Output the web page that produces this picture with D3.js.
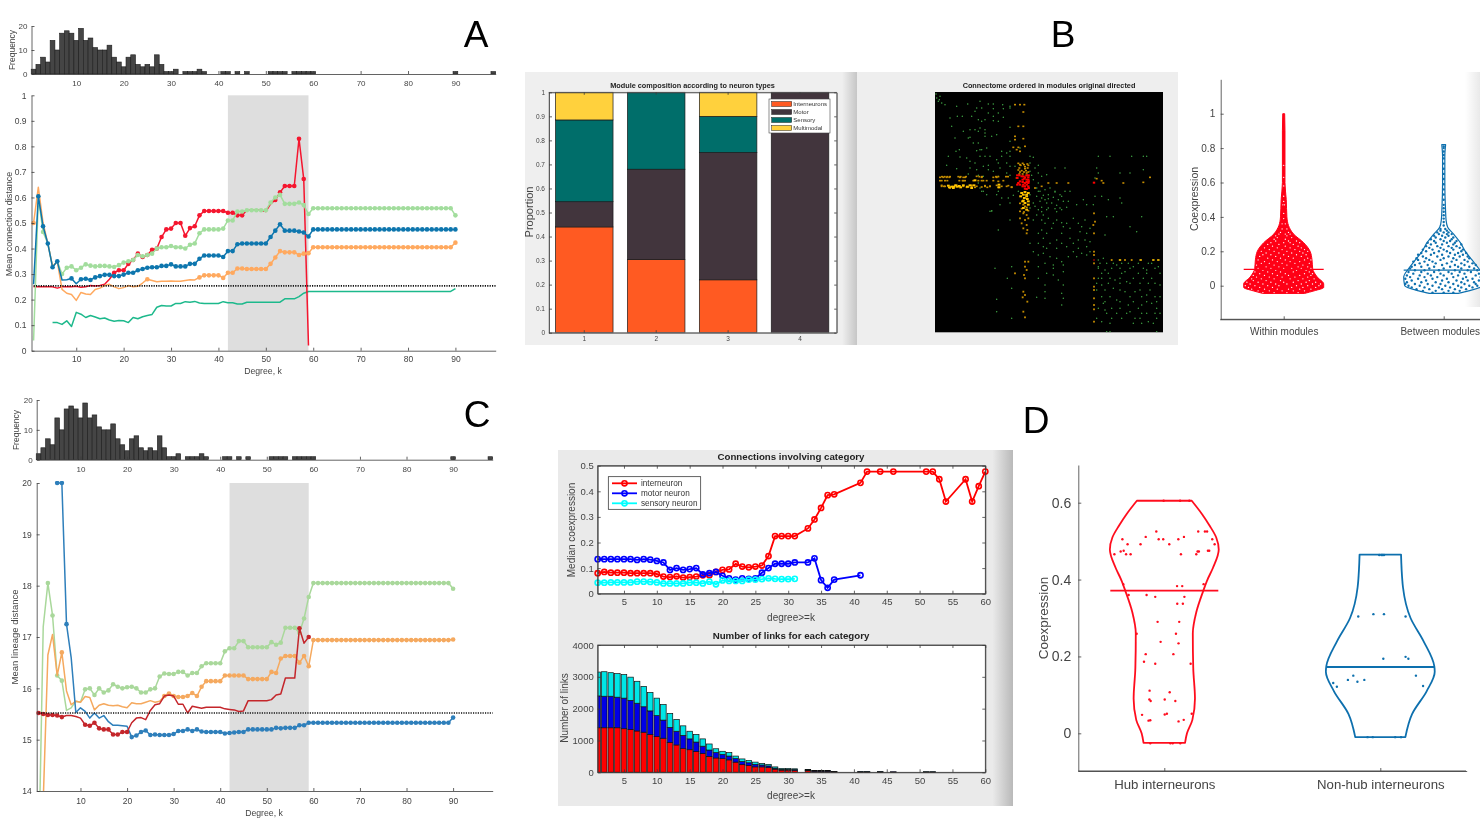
<!DOCTYPE html>
<html><head><meta charset="utf-8">
<script src="https://cdn.jsdelivr.net/npm/d3@7"></script>
<style>html,body{margin:0;padding:0;background:#fff}svg{display:block}text{font-family:"Liberation Sans",Arial,sans-serif}</style>
</head><body><svg id="fig" width="1480" height="821"></svg>
<script>
// ---------- Degree histogram (panels A, C) ----------
const histK=[1,2,3,4,5,6,7,8,9,10,11,12,13,14,15,16,17,18,19,20,21,22,23,24,25,26,27,28,29,30,31,33,34,35,36,37,41,42,44,46,51,52,53,54,56,57,58,59,60,90,98];
const histCount=[2,4,7,5,14,10,17,18,17,14,19,14,15,11,10,10,12,7,5,3,7,8,4,3,4,3,8,4,1,1,2,1,1,1,2,1,1,1,1,1,1,1,1,1,1,1,1,1,1,1,1];
// ---------- Panel A: mean connection distance, first value is at k=start ----------
const aRed=[.25,.25,.25,.25,.25,.245,.25,.25,.25,.252,.248,.25,.255,.253,.255,.26,.28,.305,.315,.315,.34,.355,.38,.367,.375,.395,.4,.445,.475,.478,.5,.5,.45,.48,.487,.53,.547,.547,.547,.547,.547,.54,.54,.53,.53,.55,.55,.55,.55,.545,.575,.59,.62,.645,.645,.645,.83,.672,.02];
const aGreen=[.04,.6,.465,.42,.33,.35,.3,.325,.33,.315,.325,.338,.333,.33,.332,.332,.33,.328,.335,.345,.35,.355,.375,.37,.375,.38,.4,.405,.405,.41,.405,.405,.4,.415,.42,.46,.475,.475,.475,.475,.478,.51,.51,.545,.545,.55,.55,.55,.55,.55,.58,.6,.61,.575,.575,.575,.58,.57,.535,.558,
 .558,.558,.558,.558,.558,.558,.558,.558,.558,.558,.558,.558,.558,.558,.558,.558,.558,.558,.558,.558,.558,.558,.558,.558,.558,.558,.558,.558,.558,.53];
const aBlue=[.26,.605,.487,.42,.327,.35,.277,.278,.283,.262,.28,.282,.277,.287,.292,.297,.297,.292,.292,.298,.305,.305,.315,.32,.325,.327,.327,.332,.332,.338,.33,.33,.33,.34,.34,.36,.373,.373,.373,.373,.367,.39,.39,.417,.42,.42,.42,.42,.42,.42,.445,.47,.495,.47,.47,.47,.467,.463,.447,.475,
 .475,.475,.475,.475,.475,.475,.475,.475,.475,.475,.475,.475,.475,.475,.475,.475,.475,.475,.475,.475,.475,.475,.475,.475,.475,.475,.475,.475,.475,.475];
const aOrange=[.5,.64,.5,.42,.33,.35,.24,.225,.22,.197,.228,.222,.22,.24,.245,.255,.26,.25,.243,.247,.255,.25,.252,.265,.28,.275,.27,.272,.272,.273,.272,.272,.275,.278,.277,.287,.295,.295,.295,.295,.285,.305,.305,.322,.322,.32,.32,.32,.32,.32,.34,.365,.39,.385,.385,.385,.375,.38,.382,.405,
 .405,.405,.405,.405,.405,.405,.405,.405,.405,.405,.405,.405,.405,.405,.405,.405,.405,.405,.405,.405,.405,.405,.405,.405,.405,.405,.405,.405,.405,.423];
const aTeal=[.11,.11,.103,.117,.095,.15,.143,.13,.138,.132,.125,.128,.12,.115,.118,.117,.11,.13,.125,.133,.138,.142,.17,.177,.175,.175,.185,.185,.192,.19,.193,.187,.185,.185,.185,.185,.192,.188,.188,.183,.183,.19,.19,.19,.19,.19,.19,.19,.19,.203,.203,.203,.212,.225,.232,.232,
 .232,.232,.232,.232,.232,.232,.232,.232,.232,.232,.232,.232,.232,.232,.232,.232,.232,.232,.232,.232,.232,.232,.232,.232,.232,.232,.232,.232,.232,.243];
const aBaseline=.254;
// ---------- Panel C: mean lineage distance ----------
const cRed=[15.52,15.5,15.48,15.48,15.47,15.44,15.47,15.47,15.45,15.42,15.29,15.27,15.33,15.22,15.2,15.2,15.1,15.1,15.15,15.15,15.33,15.42,15.43,15.39,15.57,15.68,15.7,15.85,15.87,15.85,15.69,15.69,15.52,15.65,15.63,15.61,15.63,15.63,15.63,15.63,15.6,15.59,15.58,15.55,15.56,15.76,15.76,15.76,15.76,15.76,15.78,15.87,15.89,16.2,16.2,16.2,17.17,16.88,17];
const cGreen=[12.5,17.2,18.05,17.42,16.25,16.15,15.57,15.62,15.75,15.73,15.98,16,15.87,16,15.92,15.96,16.08,16.03,16,16.02,16.03,16,15.92,15.92,15.98,16,16.23,16.29,16.28,16.28,16.32,16.32,16.25,16.3,16.3,16.43,16.49,16.49,16.49,16.49,16.72,16.78,16.78,16.92,16.92,16.8,16.8,16.8,16.8,16.8,16.9,16.85,16.89,17.18,17.18,17.18,17.08,17.36,17.78,18.05,
 18.05,18.05,18.05,18.05,18.05,18.05,18.05,18.05,18.05,18.05,18.05,18.05,18.05,18.05,18.05,18.05,18.05,18.05,18.05,18.05,18.05,18.05,18.05,18.05,18.05,18.05,18.05,18.05,18.05,17.94];
const cOrange=[13.5,13.8,16.65,17.05,16.25,16.7,15.95,15.68,15.75,15.73,15.84,15.82,15.58,15.67,15.7,15.67,15.66,15.67,15.64,15.62,15.72,15.7,15.7,15.73,15.76,15.73,15.75,15.85,15.9,15.85,15.83,15.83,15.85,15.91,15.85,16.03,16.14,16.14,16.14,16.14,16.25,16.25,16.25,16.25,16.25,16.18,16.18,16.18,16.18,16.18,16.32,16.3,16.58,16.63,16.63,16.63,16.5,16.63,16.43,16.94,
 16.94,16.94,16.94,16.94,16.94,16.94,16.94,16.94,16.94,16.94,16.94,16.94,16.94,16.94,16.94,16.94,16.94,16.94,16.94,16.94,16.94,16.94,16.94,16.94,16.94,16.94,16.94,16.94,16.94,16.95];
const cBlue=[20,20,17.25,16.6,15.53,15.62,15.55,15.42,15.52,15.42,15.47,15.35,15.28,15.28,15.27,15.26,15.05,15.08,15.15,15.18,15.09,15.1,15.09,15.09,15.09,15.11,15.17,15.17,15.2,15.17,15.2,15.16,15.15,15.15,15.15,15.15,15.12,15.13,15.14,15.15,15.15,15.2,15.2,15.2,15.2,15.2,15.2,15.23,15.22,15.23,15.23,15.23,15.28,15.28,15.33,15.33,
 15.33,15.33,15.33,15.33,15.33,15.33,15.33,15.33,15.33,15.33,15.33,15.33,15.33,15.33,15.33,15.33,15.33,15.33,15.33,15.33,15.33,15.33,15.33,15.33,15.33,15.33,15.33,15.33,15.33,15.43];
const cBaseline=15.52;
// ---------- Panel B: module composition ----------
const modules=["1","2","3","4"];
const typeNames=["Interneurons","Motor","Sensory","Multimodal"];
const typeColors=["#ff5a22","#42363e","#006e6b","#ffd13c"];
const propInter=[.44,.305,.22,0];
const propMotor=[.105,.375,.53,1];
const propSensory=[.34,.32,.15,0];
const propMulti=[.115,0,.10,0];
const heatGreenTop=[[20,30],[25,40],[30,25],[35,45],[45,50],[18,18],[28,35],[150,40],[80,55],[113,48],[175,48],[190,48],[218,50],[240,55],[155,60],[140,60],[190,62],[220,62],[240,60],[60,90],[82,85],[97,85],[145,95],[155,100],[165,95],[190,85],[190,98],[220,88],[165,125],[165,135],[240,118],[120,125],[135,125],[145,130],[185,145],[165,145],[120,148],[240,160],[145,165],[150,185],[88,185],[78,190],[140,188],[165,205],[155,185],[215,190],[240,190],[230,195],[180,205],[90,207],[55,205],[110,210],[240,205],[310,208],[300,205],[150,205],[270,180],[50,232],[80,242],[120,240],[175,232],[205,225],[230,225],[240,235],[255,235],[300,225],[325,232],[375,240],[405,240],[115,258],[175,245],[145,262],[160,265],[205,265],[240,262],[305,262],[325,255],[350,260],[500,240],[505,255],[540,205],[605,205],[640,205],[650,205],[505,205],[570,255],[600,255],[640,245],[495,270],[155,310],[205,310],[235,330],[265,310],[300,320],[310,345],[325,310],[335,330],[355,320],[350,345],[375,310],[385,335],[395,325],[420,310],[415,340],[440,350],[460,335],[470,350],[495,325],[490,350],[515,325],[535,335],[570,330],[575,345],[300,360],[325,365],[355,360],[390,360],[210,350],[240,345],[185,368],[285,345],
[320,300],[330,310],[345,305],[360,300],[375,312],[320,325],[340,322],[355,332],[370,328],[390,320],[405,310],[330,340],[345,335],[365,345],[380,352],[400,340],[315,355],[335,358],[350,365],[375,362],[395,365],[410,358],[200,320],[215,330],[180,370],[250,322],[160,310],[170,320],[150,300],[145,285],[310,275],[325,285],[335,265],[315,240],[300,250],[230,255],[210,240],[190,250],[160,235],[140,245],[135,225],[120,220],[200,215],[215,205],[170,180],[130,165],[115,150],[200,140],[150,120],[100,130],[75,150],[65,115],[125,85],[135,70],[175,75],[205,100],[205,75]];
const heatAmberTop=[[255,50],[270,50],[283,50],[280,72],[265,115],[280,115],[255,145],[255,155],[280,152],[250,178],[265,178],[285,175],[270,190],[260,185],[270,230],[282,230],[295,232],[268,240],[285,242],[293,240],[270,252],[282,252],[290,255],[30,268],[40,268],[50,268],[58,268],[90,268],[100,268],[105,268],[140,265],[155,268],[190,268],[200,268],[260,270],[30,278],[88,278],[100,278],[130,278],[160,278],[190,278],[205,280],[500,272],[515,278],[660,268],[640,283],[580,285],[520,285],[380,285],[355,285],[415,285],[35,295],[42,295],[100,295],[115,297],[125,295],[140,295],[155,297],[165,295],[180,295],[205,298],[230,295],[245,297],[315,300],[335,295],
[36,266],[44,266],[52,266],[60,266],[85,266],[92,266],[108,266],[148,266],[156,266],[198,266],[205,266],[228,266],[234,266],[35,278],[45,278],[52,278],[98,278],[105,278],[145,278],[155,278],[170,278],[220,278],[35,292],[45,295],[60,300],[75,292],[110,298],[125,292],[135,298],[165,293],[172,298],[180,295],[200,292],[215,295],[235,293],[245,298],[265,226],[272,232],[278,226],[285,236],[292,228],[265,246],[275,248],[288,248],[295,252],[268,258],[278,258],[290,262],[270,346],[280,350],[285,355],[275,362],[290,358],[270,370],[282,372],[295,368]];
const heatYellowTop=[[55,293],[65,296],[72,296],[82,296],[88,294],[120,292],[125,300],[207,290],[207,298],[135,277],[280,320],[290,320],[283,330],[292,333],[278,340],[285,345],[295,350],[280,360],[290,365],[275,315],[285,312],[295,315],[272,325],[290,325],[280,338],[295,340],[58,298],[70,300],[78,292],[92,298],[100,292],[112,296],[132,292]];
const heatRedTop=[[285,268],[295,268],[278,275],[290,275],[262,270],[285,285],[295,285],[265,285],[285,295],[295,295],[290,303],[492,284],[262,262],[268,262],[275,265],[280,265],[290,262],[296,262],[283,272],[295,275],[270,280],[278,282],[290,282],[296,280],[262,290],[270,290],[280,290],[290,290],[296,300],[285,302],[278,295]];
const heatGreenLow=[[185,3],[205,60],[240,30],[300,100],[320,15],[335,5],[340,15],[380,5],[380,30],[395,38],[345,40],[325,70],[335,60],[365,55],[380,90],[400,50],[420,55],[450,65],[470,70],[465,90],[470,110],[455,130],[470,135],[325,100],[340,110],[380,115],[410,110],[430,100],[340,130],[325,135],[380,145],[395,155],[400,165],[345,160],[325,170],[370,165],[400,185],[325,205],[370,195],[345,225],[400,225],[395,250],[345,265],[320,262],[395,285],[200,305],[245,325],[195,175],[245,170],[232,205],[245,235],[200,268],[530,20],[550,20],[635,20],[525,75],[600,50],[620,65],[505,150],[520,145],
[510,160],[530,160],[550,160],[575,160],[595,160],[625,160],[655,160],[665,160],[505,175],[545,175],[570,175],[600,175],[640,175],[675,175],[515,190],[535,190],[575,190],[625,190],[650,190],[690,190],[515,205],[540,205],[570,205],[610,205],[640,205],[665,205],[500,220],[535,220],[570,220],[600,220],[630,220],[675,220],[500,240],[525,240],[570,240],[630,240],[660,240],[515,260],[540,260],[600,260],[635,260],[675,260],[690,260],[525,275],[570,275],[610,275],[650,275],[680,275],[505,295],[545,295],[570,295],[625,295],[680,295],[530,310],[590,310],[635,310],[675,310],[500,325],[545,325],[630,325],[680,325],[540,340],[610,340],[635,340],[670,340],[530,365],[540,365],[680,365],
[310,30],[335,30],[355,25],[370,40],[350,70],[395,70],[410,40],[430,25],[445,40],[465,30],[455,50],[480,55],[340,85],[360,100],[420,85],[445,90],[480,95],[350,115],[395,100],[430,125],[445,115],[480,125],[310,125],[360,140],[415,140],[440,140],[370,175],[350,190],[385,210],[345,245],[400,265],[505,170],[525,180],[560,165],[585,185],[610,170],[650,180],[685,170],[505,205],[555,210],[590,215],[655,220],[690,225],[515,225],[550,235],[585,245],[615,245],[650,255],[520,280],[560,270],[595,285],[635,285],[665,280],[525,300],[560,310],[600,305],[650,310],[690,310],[515,335],[575,325],[615,325],[655,335]];
const heatAmberLow=[[280,10],[290,15],[270,25],[285,30],[295,25],[275,40],[290,45],[280,55],[292,60],[290,70],[492,10],[495,35],[490,45],[492,70],[492,125],[492,135],[492,160],[285,155],[295,155],[285,170],[290,180],[282,195],[285,205],[255,190],[280,245],[285,255],[278,262],[292,275],[280,305],[285,322],[492,205],[492,230],[492,240],[492,265],[492,285],[492,298],[492,335],[545,150],[585,150],[605,150]];
const heatYellowLow=[[570,150],[632,150],[670,150],[685,150]];
const heatRedLow=[[492,150]];
// ---------- Panel B: coexpression violins ----------
const violinNamesB=["Within modules","Between modules"];
const withinShape=[[1,.006],[.9,.008],[.7,.008],[.6,.008],[.5,.016],[.4,.02],[.35,.03],[.3,.062],[.25,.125],[.2,.165],[.15,.177],[.1,.181],[.05,.21],[.01,.25],[-.01,.25],[-.03,.19],[-.045,.13]];
const betweenShape=[[.82,.012],[.75,.007],[.6,.007],[.45,.011],[.38,.015],[.34,.025],[.3,.062],[.25,.104],[.2,.135],[.15,.177],[.1,.219],[.05,.25],[0,.244],[-.03,.156],[-.045,.09]];
const withinMedian=.095, betweenMedian=.09;
// rows: [coexpression %, [offsets % of category spacing]]
const withinGapRows=[[-4,[-13,-6,2,9]],[-3,[-16,-9,-1,6,13]],[-2,[-20,-12,-4,3,10,17]],[-1,[-22,-15,-7,5,12,20]],[0,[-24,-18,-10,-3,8,15,22]],[1,[-21,-13,-5,2,11,18,23]],[2,[-23,-16,-8,0,6,14,20]],[3,[-19,-11,-2,9,16]],[4,[-20,-14,-6,4,12,19]],[5,[-17,-9,-1,7,15]],[6,[-19,-12,-4,3,10,17]],[7,[-15,-7,1,13,18]],[8,[-18,-10,-2,6,16]],[9,[-13,-5,8,14]],[10,[-16,-8,0,5,11,17]],[11,[-11,-3,9,15]],[12,[-17,-6,2,12]],[13,[-14,-9,-1,7,16]],[14,[-12,-4,4,10]],[15,[-16,-7,1,13,17]],[16,[-10,-2,6,15]],[17,[-15,-5,3,11]],[18,[-13,-8,0,8,14]],[19,[-11,-3,5,12]],[20,[-14,-6,2,10,15]],[21,[-9,-1,7,13]],[22,[-12,-4,4,11]],[23,[-7,1,9]],[24,[-10,-3,6]],[25,[-8,0,4,10]],[26,[-5,3,8]],[27,[-6,1]],[28,[-4,5]],[29,[-5,2]],[30,[-3,1,4]],[31,[-2,3]],[33,[-1,2]],[36,[-1,1]],[39,[0]],[42,[0]],[47,[-.5,.5]],[49,[0]],[52,[0]],[58,[0]],[63,[0]],[70,[0]]];
const betweenDotRows=[[-4,[-7,0,6]],[-3,[-13,-5,3,10]],[-2,[-17,-9,-1,7,14]],[-1,[-20,-12,-3,4,11,18]],[0,[-22,-15,-7,1,9,16,21]],[1,[-24,-18,-10,-2,6,13,20]],[2,[-23,-14,-5,3,11,19,24]],[3,[-20,-11,-1,8,15,22]],[4,[-24,-16,-7,2,12,18]],[5,[-21,-12,-4,6,14,23]],[6,[-23,-15,-8,0,9,20]],[7,[-19,-10,-2,5,13,22]],[8,[-22,-14,-6,3,10,17]],[9,[-18,-12,-3,7,15,21]],[10,[-21,-9,0,11,19]],[11,[-20,-14,-6,4,9,16]],[12,[-18,-10,-1,7,13,20]],[13,[-15,-5,2,11,18]],[14,[-19,-12,-7,5,15]],[15,[-16,-9,-2,8,13]],[16,[-17,-11,0,6,16]],[17,[-13,-4,3,10,15]],[18,[-16,-8,-1,7,12]],[19,[-14,-6,4,9,14]],[20,[-11,-3,2,11]],[21,[-13,-7,0,6,12]],[22,[-9,-2,5,10]],[23,[-11,-4,3,8]],[24,[-8,-1,6,11]],[25,[-10,-5,2,7]],[26,[-6,0,4,8]],[27,[-8,-2,5]],[28,[-5,1,6]],[29,[-6,-1,3]],[30,[-3,2,5]],[31,[-4,0,3]],[32,[-2,2]],[33,[-2,1]],[35,[0]],[37,[0]],[39,[0]],[41,[0]],[43,[0]],[45,[0]],[47,[0]],[50,[0]],[53,[0]],[56,[0]],[59,[0]],[62,[0]],[65,[0]],[68,[0]],[71,[0]],[74,[0]],[76,[0]],[78,[0]],[80,[0]],[81,[0]]];
// ---------- Connections involving category ----------
const interK=[1,2,3,4,5,6,7,8,9,10,11,12,13,14,15,16,17,18,19,20,21,22,23,24,25,26,27,28,29,30,31,33,34,35,36,37,41,42,44,46,51,52,53,54,57,58,59,60];
const interMed=[.08,.085,.082,.082,.082,.08,.08,.08,.08,.077,.067,.065,.068,.063,.065,.067,.072,.072,.085,.093,.095,.117,.106,.103,.106,.11,.147,.225,.225,.225,.225,.255,.29,.335,.385,.388,.433,.477,.477,.477,.477,.477,.447,.36,.447,.36,.42,.477];
const motorK=[1,2,3,4,5,6,7,8,9,10,11,12,13,14,15,16,17,18,19,20,21,22,23,24,25,26,27,28,29,30,31,33,34,35,36,37,41];
const motorMed=[.135,.135,.135,.135,.135,.135,.132,.135,.133,.128,.122,.093,.1,.093,.096,.1,.075,.08,.085,.07,.06,.055,.06,.058,.06,.082,.1,.117,.117,.117,.122,.122,.138,.053,.023,.055,.072];
const sensoryK=[1,2,3,4,5,6,7,8,9,10,11,12,13,14,15,16,17,18,19,20,21,22,23,24,25,26,27,28,29,30,31];
const sensoryMed=[.043,.043,.044,.044,.044,.044,.047,.047,.046,.044,.04,.04,.04,.04,.043,.043,.04,.047,.037,.052,.05,.05,.05,.055,.055,.057,.06,.058,.057,.057,.058];
const linkK=[1,2,3,4,5,6,7,8,9,10,11,12,13,14,15,16,17,18,19,20,21,22,23,24,25,26,27,28,29,30,31,33,34,35,36,37,41,42,44,46,51,52];
const linkInter=[1400,1400,1400,1400,1370,1340,1300,1260,1190,1120,1070,940,860,750,710,650,590,500,450,430,390,320,240,210,170,170,150,100,70,70,60,50,30,30,30,20,10,10,10,10,8,8];
const linkMotor=[1000,990,990,960,960,920,870,800,740,660,570,470,430,410,340,300,230,200,170,130,120,110,100,90,80,60,50,30,20,20,30,20,20,15,15,10,5,5,5,5,4,4];
const linkSensory=[750,770,740,740,740,730,690,640,580,550,490,440,370,300,240,240,230,190,120,100,110,80,80,70,70,50,50,40,30,30,20,20,10,15,15,0,5,5,5,0,3,3];
// ---------- Panel D ----------
const violinNamesD=["Hub interneurons","Non-hub interneurons"];
const hubShape=[[.605,.127],[.57,.175],[.54,.21],[.51,.24],[.478,.252],[.43,.225],[.4,.2],[.37,.18],[.315,.148],[.26,.132],[.17,.134],[.09,.142],[.035,.13],[0,.105],[-.025,.096]];
const nonHubShape=[[.465,.096],[.38,.105],[.3,.14],[.24,.2],[.175,.25],[.16,.252],[.11,.215],[.05,.147],[-.01,.116]];
const hubMedian=.371, nonHubMedian=.1725;
const hubPoints=[[-.003,.605],[.073,.605],[.116,.605],[-.037,.525],[.157,.525],[.188,.525],[.198,.525],[-.086,.511],[.091,.511],[-.194,.505],[-.026,.505],[-.005,.505],[.065,.505],[.222,.505],[-.17,.492],[-.11,.492],[.023,.492],[.233,.492],[-.202,.473],[-.188,.475],[-.231,.466],[-.177,.466],[-.156,.466],[.077,.466],[.148,.466],[.154,.473],[.16,.473],[.202,.475],[.208,.475],[-.19,.388],[.059,.383],[.083,.383],[.182,.388],[-.165,.36],[-.082,.36],[-.042,.355],[.093,.355],[.06,.337],[.086,.337],[-.031,.29],[.069,.29],[-.128,.259],[.054,.259],[-.017,.238],[.066,.234],[-.086,.206],[.042,.206],[-.094,.186],[-.042,.181],[.122,.181],[-.068,.111],[.025,.107],[-.069,.088],[-.063,.084],[.002,.088],[.051,.084],[-.103,.048],[.002,.049],[.012,.051],[.127,.051],[-.073,.033],[-.065,.034],[.066,.031],[.09,.035],[-.065,-.026],[.028,-.026],[.039,-.026],[.074,-.026]];
const nonHubPoints=[[-.005,.464],[.005,.464],[.011,.464],[.017,.464],[-.102,.304],[-.032,.31],[.017,.31],[.117,.304],[.014,.194],[.117,.199],[.13,.194],[.165,.15],[.198,.123],[-.125,.15],[-.15,.139],[-.106,.134],[-.074,.139],[-.218,.131],[-.201,.121],[-.059,-.01],[-.035,-.01],[.069,-.01],[.096,-.01]];
// ---------- Corner letters ----------
const panelLetters=[["A",476,47],["B",1063,47],["C",477,427],["D",1036,433]];

// ======================= drawing =======================
const svg=d3.select("#fig");
const defs=svg.append("defs");
defs.append("filter").attr("id","soft").attr("filterUnits","userSpaceOnUse").attr("x",0).attr("y",0).attr("width",1480).attr("height",821)
  .append("feGaussianBlur").attr("stdDeviation",.35);
defs.append("filter").attr("id","softHeat").attr("filterUnits","userSpaceOnUse").attr("x",930).attr("y",88).attr("width",240).attr("height",250)
  .append("feGaussianBlur").attr("stdDeviation",.45);
function fade(id,from,to,a,b){const g=defs.append("linearGradient").attr("id",id);
  g.append("stop").attr("offset",a).attr("stop-color",from);g.append("stop").attr("offset",b).attr("stop-color",to);g.append("stop").attr("offset",1).attr("stop-color",to);}
fade("fadeB1","#efefef","#c6c6c6",.955,1);
fade("fadeD1","#eaeaea","#b9b9b9",.955,1);
const grayEdge=defs.append("linearGradient").attr("id","fadeB3");
grayEdge.append("stop").attr("offset",0).attr("stop-color","#fff");grayEdge.append("stop").attr("offset",1).attr("stop-color","#e9e9e9");
function clip(id,x,y,w,h){defs.append("clipPath").attr("id",id).append("rect").attr("x",x).attr("y",y).attr("width",w).attr("height",h);}

const root=svg.append("g").attr("filter","url(#soft)");
const AX="#3c3c3c", TX="#444";

function styleAxis(g,size){g.selectAll("path,line").attr("stroke",AX).attr("stroke-width",.8);
  g.selectAll("text").attr("fill",TX).attr("font-size",size).attr("font-family",'"Liberation Sans",Arial,sans-serif');}
function xAxis(g,x,yPos,vals,size,pad,fmt){const a=d3.axisBottom(x).tickValues(vals).tickSizeInner(-3).tickSizeOuter(0).tickPadding(pad+3);if(fmt)a.tickFormat(fmt);else a.tickFormat(d3.format("d"));
  const n=g.append("g").attr("transform",`translate(0,${yPos})`).call(a);styleAxis(n,size);return n;}
function yAxis(g,y,xPos,vals,size,pad,fmt){const a=d3.axisLeft(y).tickValues(vals).tickSizeInner(-3).tickSizeOuter(0).tickPadding(pad+3);a.tickFormat(fmt||(d=>d));
  const n=g.append("g").attr("transform",`translate(${xPos},0)`).call(a);styleAxis(n,size);return n;}
function label(g,t,x,y,size,opt={}){const n=g.append("text").text(t).attr("text-anchor","middle").attr("font-size",size).attr("fill",opt.fill||TX).attr("font-weight",opt.bold?"bold":null);
  if(opt.rot)n.attr("transform",`translate(${x},${y}) rotate(-90)`);else n.attr("x",x).attr("y",y);return n;}

// ---------- Histogram and degree line panels ----------
function histogram(g,x,y0,y1,xAxisLeft,tickPad,ylabX,ylabY){
  const y=d3.scaleLinear().domain([0,20]).range([y0,y1]);
  g.append("g").selectAll("rect").data(histK).join("rect")
   .attr("x",k=>x(k-.5)).attr("width",k=>x(k+.5)-x(k-.5))
   .attr("y",(k,i)=>y(histCount[i])).attr("height",(k,i)=>y0-y(histCount[i]))
   .attr("fill","#454545").attr("stroke","#1c1c1c").attr("stroke-width",.6);
  xAxis(g,x,y0,[10,20,30,40,50,60,70,80,90],8,tickPad);
  yAxis(g,y,xAxisLeft,[0,10,20],8,1);
  label(g,"Frequency",ylabX,ylabY,8.5,{rot:true});
}
function degreePanel(g,id,x,y,series,baseline,bandTop,bandBottom){
  g.append("rect").attr("x",x(42)).attr("width",x(59)-x(42)).attr("y",bandTop).attr("height",bandBottom-bandTop).attr("fill","#dedede");
  const line=d3.line().x(d=>x(d.k)).y(d=>y(d.v));
  const plot=g.append("g").attr("clip-path",`url(#${id})`);
  series.forEach(s=>{
    const pts=s.values.map((v,i)=>({k:s.start+i,v}));
    plot.append("path").attr("d",line(pts)).attr("fill","none").attr("stroke",s.color).attr("stroke-width",1.5).attr("stroke-linejoin","round");
    const marked=pts.filter(p=>s.marks.some(r=>p.k>=r[0]&&p.k<=r[1]));
    plot.append("g").selectAll("circle").data(marked).join("circle").attr("cx",d=>x(d.k)).attr("cy",d=>y(d.v)).attr("r",2.3).attr("fill",s.color);
  });
  plot.append("line").attr("x1",x(1)).attr("x2",x(98.5)).attr("y1",y(baseline)).attr("y2",y(baseline)).attr("stroke","#111").attr("stroke-width",1.6).attr("stroke-dasharray","1.2 1.2");
}
const panelA=root.append("g");
const xA=d3.scaleLinear().domain([.56,98.5]).range([31.5,495.7]);
histogram(panelA,xA,74,26,31.5,3,14.5,50);
const yA=d3.scaleLinear().domain([0,1]).range([350.7,95.3]);
clip("clipA",31,94,466,257);
degreePanel(panelA,"clipA",xA,yA,[
 {values:aTeal,start:5,color:"#1fb98c",marks:[]},
 {values:aRed,start:1,color:"#f5142e",marks:[[18,45],[52,58]]},
 {values:aGreen,start:1,color:"#a2dd9d",marks:[[3,3],[7,90]]},
 {values:aOrange,start:1,color:"#ffa95f",marks:[[1,1],[25,25],[36,90]]},
 {values:aBlue,start:1,color:"#0c76ae",marks:[[2,6],[9,9],[11,90]]}
],aBaseline,95.3,350.7);
xAxis(panelA,xA,350.7,[10,20,30,40,50,60,70,80,90],8.5,2.5);
yAxis(panelA,yA,31.5,[0,.1,.2,.3,.4,.5,.6,.7,.8,.9,1],8.5,2);
label(panelA,"Mean connection distance",11.5,224,9,{rot:true});
label(panelA,"Degree, k",263,374,8.7);

const panelC=root.append("g");
const xC=d3.scaleLinear().domain([.6,98.5]).range([36.7,492.7]);
histogram(panelC,xC,459.7,400,36.7,3.5,19,430);
const yC=d3.scaleLinear().domain([14,20]).range([791,483]);
clip("clipC",36,481,458,310);
degreePanel(panelC,"clipC",xC,yC,[
 {values:cGreen,start:1,color:"#a9d89b",marks:[[3,6],[11,90]]},
 {values:cOrange,start:1,color:"#f5a95e",marks:[[6,6],[28,90]]},
 {values:cBlue,start:5,color:"#2e7fbb",marks:[[5,7],[21,90]]},
 {values:cRed,start:1,color:"#c4252b",marks:[[1,6],[11,20],[57,57],[59,59]]}
],cBaseline,483,791);
xAxis(panelC,xC,791,[10,20,30,40,50,60,70,80,90],8.5,3.5);
yAxis(panelC,yC,36.7,[14,15,16,17,18,19,20],8.5,2);
label(panelC,"Mean lineage distance",17.7,637,9.5,{rot:true});
label(panelC,"Degree, k",264,816,8.7);

// ---------- Panel B backgrounds ----------
const panelB=root.append("g");
panelB.append("rect").attr("x",525).attr("y",72).attr("width",332).attr("height",273).attr("fill","url(#fadeB1)");
panelB.append("rect").attr("x",857).attr("y",72).attr("width",321).attr("height",273).attr("fill","#eeeeee");
panelB.append("rect").attr("x",1465).attr("y",72).attr("width",15).attr("height",235).attr("fill","url(#fadeB3)");

// module bars
const xM=d3.scaleBand().domain(modules).range([548.3,836]).paddingInner(.2).paddingOuter(.1);
const yM=d3.scaleLinear().domain([0,1]).range([332.7,92.3]);
panelB.append("rect").attr("x",549).attr("y",92.3).attr("width",287.7).attr("height",240.4).attr("fill","#fff");
const stackM=d3.stack().keys([0,1,2,3]).value((d,k)=>d[k])(modules.map((m,i)=>[propInter[i],propMotor[i],propSensory[i],propMulti[i]]));
panelB.append("g").selectAll("g").data(stackM).join("g").attr("fill",(d,i)=>typeColors[i])
 .selectAll("rect").data(d=>d.map((r,i)=>({r,m:modules[i]})).filter(d=>d.r[1]>d.r[0])).join("rect")
 .attr("x",d=>xM(d.m)).attr("width",xM.bandwidth()).attr("y",d=>yM(d.r[1])).attr("height",d=>yM(d.r[0])-yM(d.r[1]))
 .attr("stroke","#1a1a1a").attr("stroke-width",.7);
panelB.append("rect").attr("x",549).attr("y",92.3).attr("width",287.7).attr("height",240.4).attr("fill","none").attr("stroke","#888").attr("stroke-width",.7);
{const a=d3.axisBottom(xM).tickSizeInner(-2.5).tickSizeOuter(0).tickPadding(4);const n=panelB.append("g").attr("transform","translate(0,332.7)").call(a);styleAxis(n,6.5);
 const t=d3.axisTop(xM).tickSizeInner(-2.5).tickSizeOuter(0).tickFormat("");const n2=panelB.append("g").attr("transform","translate(0,92.3)").call(t);styleAxis(n2,6.5);
 yAxis(panelB,yM,549,d3.range(0,11).map(i=>i/10),6.5,1);
 const r=d3.axisRight(yM).tickValues(d3.range(0,11).map(i=>i/10)).tickSizeInner(-2.5).tickSizeOuter(0).tickFormat("");const n3=panelB.append("g").attr("transform","translate(836.7,0)").call(r);styleAxis(n3,6.5);}
label(panelB,"Proportion",533,212,11,{rot:true});
label(panelB,"Module composition according to neuron types",692.5,88,7.3,{bold:true,fill:"#222"});
const legM=panelB.append("g");
legM.append("rect").attr("x",769).attr("y",99).attr("width",61).attr("height",34).attr("fill","#fff").attr("stroke","#444").attr("stroke-width",.6);
typeNames.forEach((n,i)=>{const yy=104+i*8;
 legM.append("rect").attr("x",771.7).attr("y",yy-2.5).attr("width",20).attr("height",5).attr("fill",typeColors[i]).attr("stroke","#222").attr("stroke-width",.5);
 legM.append("text").text(n).attr("x",793.3).attr("y",yy+2).attr("font-size",6).attr("fill","#333");});

// connectome
label(panelB,"Connectome ordered in modules original directed",1049,88,7.3,{bold:true,fill:"#222"});
panelB.append("rect").attr("x",935).attr("y",92).attr("width",228).attr("height",240.3).attr("fill","#000");
clip("clipHeat",935,92,228,240.3);
const heatG=panelB.append("g").attr("clip-path","url(#clipHeat)").append("g").attr("filter","url(#softHeat)");
const xH=d3.scaleLinear().domain([0,720]).range([930,1170]);
const yHtop=d3.scaleLinear().domain([0,375]).range([88,213]);
const yHlow=d3.scaleLinear().domain([0,375]).range([210,335]);
function cells(data,yS,color,w,h){heatG.append("g").selectAll("rect").data(data).join("rect").attr("x",d=>xH(d[0])-w/2).attr("y",d=>yS(d[1])-h/2).attr("width",w).attr("height",h).attr("fill",color);}
cells(heatGreenTop,yHtop,"#39923c",1.3,1.4);cells(heatGreenLow,yHlow,"#39923c",1.3,1.4);
cells(heatAmberTop,yHtop,"#c48c00",2,1.6);cells(heatAmberLow,yHlow,"#c48c00",1.8,1.8);
cells(heatYellowTop,yHtop,"#ffc400",2.8,2);cells(heatYellowLow,yHlow,"#ffc400",2.4,1.6);
cells(heatRedTop,yHtop,"#ff0000",2.4,2);cells(heatRedLow,yHlow,"#b00000",1.5,1.6);

// coexpression violins
const panelV=root.append("g");
const xV=d3.scaleLinear().domain([1,2]).range([1283.7,1443.7]);
const yV=d3.scaleLinear().domain([0,1]).range([285.7,113.7]);
function violin(g,shape,pos,x,y,color,fill,sw){
  const a=d3.area().y(d=>y(d[0])).x0(d=>x(pos-d[1])).x1(d=>x(pos+d[1])).curve(d3.curveMonotoneY);
  g.append("path").attr("d",a(shape)).attr("fill",fill).attr("stroke",color).attr("stroke-width",sw).attr("stroke-linejoin","round");
}
function medianLine(g,shapeHalf,pos,v,x,y,color,sw){g.append("line").attr("x1",x(pos-shapeHalf)).attr("x2",x(pos+shapeHalf)).attr("y1",y(v)).attr("y2",y(v)).attr("stroke",color).attr("stroke-width",sw);}
function rowDots(g,rows,pos,x,y,color,r){
  const pts=rows.flatMap(row=>row[1].map(j=>[j/100,row[0]/100]));
  g.append("g").selectAll("circle").data(pts).join("circle").attr("cx",d=>x(pos+d[0])).attr("cy",d=>y(d[1])).attr("r",r).attr("fill",color);
}
violin(panelV,withinShape,1,xV,yV,"#ff0018","#ff0018",1);
rowDots(panelV,withinGapRows,1,xV,yV,"#fff",.65);
medianLine(panelV,.25,1,withinMedian,xV,yV,"#ff0018",1.2);
violin(panelV,betweenShape,2,xV,yV,"#0f70ae","#ffffff",1.2);
rowDots(panelV,betweenDotRows,2,xV,yV,"#0f70ae",1.2);
medianLine(panelV,.25,2,betweenMedian,xV,yV,"#0f70ae",1.3);
{const xv2=d3.scaleLinear().domain([.6,2.25]).range([xV(.6),xV(2.25)]);
 const n=xAxis(panelV,xv2,319.3,[1,2],10,6,d=>violinNamesB[d-1]);
 // the long right-hand label is nudged so that it stays inside the page
 n.selectAll("text").filter(d=>d===2).attr("dx",-4);
 panelV.append("line").attr("x1",1220.7).attr("x2",1480).attr("y1",319.3).attr("y2",319.3).attr("stroke",AX).attr("stroke-width",.9);}
{const yv2=d3.scaleLinear().domain([-.195,1.2]).range([yV(-.195),yV(1.2)]);
 yAxis(panelV,yv2,1220.7,[0,.2,.4,.6,.8,1],10,2.5);}
label(panelV,"Coexpression",1198,199,10.5,{rot:true});

// ---------- Connections panel ----------
const panelL=root.append("g");
panelL.append("rect").attr("x",558).attr("y",450).attr("width",455).attr("height",356).attr("fill","url(#fadeD1)");
const xL=d3.scaleLinear().domain([1,60]).range([597.7,985.3]);
const kTicks=[5,10,15,20,25,30,35,40,45,50,55,60];
function frame(g,top,bottom){
  g.append("rect").attr("x",597.7).attr("y",top).attr("width",387.6).attr("height",bottom-top).attr("fill","#fff");
}
function frameAxes(g,x,y,top,bottom,yTicks){
  g.append("rect").attr("x",597.7).attr("y",top).attr("width",387.6).attr("height",bottom-top).attr("fill","none").attr("stroke",AX).attr("stroke-width",.8);
  xAxis(g,x,bottom,kTicks,9.5,2);
  yAxis(g,y,597.7,yTicks,9.5,1);
  const t=d3.axisTop(x).tickValues(kTicks).tickSizeInner(-3).tickSizeOuter(0).tickFormat("");styleAxis(g.append("g").attr("transform",`translate(0,${top})`).call(t),9);
  const r=d3.axisRight(y).tickValues(yTicks).tickSizeInner(-3).tickSizeOuter(0).tickFormat("");styleAxis(g.append("g").attr("transform","translate(985.3,0)").call(r),9);
}
const yMed=d3.scaleLinear().domain([0,.5]).range([593.7,465.7]);
frame(panelL,465.7,593.7);
function markLine(g,ks,vals,color){
  const pts=ks.map((k,i)=>[k,vals[i]]);
  g.append("path").attr("d",d3.line().x(d=>xL(d[0])).y(d=>yMed(d[1]))(pts)).attr("fill","none").attr("stroke",color).attr("stroke-width",1.8);
  g.append("g").selectAll("circle").data(pts).join("circle").attr("cx",d=>xL(d[0])).attr("cy",d=>yMed(d[1])).attr("r",2.6).attr("fill","none").attr("stroke",color).attr("stroke-width",1.6);
}
clip("clipMed",594,462,395,134);
const medG=panelL.append("g").attr("clip-path","url(#clipMed)");
markLine(medG,interK,interMed,"#ff0000");
markLine(medG,motorK,motorMed,"#0000ff");
markLine(medG,sensoryK,sensoryMed,"#00ffff");
frameAxes(panelL,xL,yMed,465.7,593.7,[0,.1,.2,.3,.4,.5]);
label(panelL,"Connections involving category",791,460,9.7,{bold:true,fill:"#222"});
label(panelL,"degree>=k",791,620.5,10);
label(panelL,"Median coexpression",575.3,530,10,{rot:true});
const legL=panelL.append("g");
legL.append("rect").attr("x",608.3).attr("y",476.7).attr("width",92.4).attr("height",32.6).attr("fill","#fff").attr("stroke","#222").attr("stroke-width",.7);
[["interneuron","#ff0000"],["motor neuron","#0000ff"],["sensory neuron","#00ffff"]].forEach((e,i)=>{const yy=483.3+i*10;
 legL.append("line").attr("x1",612).attr("x2",637).attr("y1",yy).attr("y2",yy).attr("stroke",e[1]).attr("stroke-width",1.8);
 legL.append("circle").attr("cx",624.5).attr("cy",yy).attr("r",2.6).attr("fill","none").attr("stroke",e[1]).attr("stroke-width",1.6);
 legL.append("text").text(e[0]).attr("x",641).attr("y",yy+2.7).attr("font-size",8.2).attr("fill","#333");});

const yLink=d3.scaleLinear().domain([0,4000]).range([772.3,645]);
frame(panelL,645,772.3);
const stackL=d3.stack().keys([0,1,2]).value((d,k)=>d[k])(linkK.map((k,i)=>[linkInter[i],linkMotor[i],linkSensory[i]]));
const linkColors=["#ff0000","#0000e6","#00e6e6"];
clip("clipLink",597.7,640,387.6,133);
panelL.append("g").attr("clip-path","url(#clipLink)").selectAll("g").data(stackL).join("g").attr("fill",(d,i)=>linkColors[i])
 .selectAll("rect").data(d=>d.map((r,i)=>({r,k:linkK[i]}))).join("rect")
 .attr("x",d=>xL(d.k-.42)).attr("width",xL(.84)-xL(0)).attr("y",d=>yLink(d.r[1])).attr("height",d=>Math.max(0,yLink(d.r[0])-yLink(d.r[1])))
 .attr("stroke","#111").attr("stroke-width",.7);
frameAxes(panelL,xL,yLink,645,772.3,[0,1000,2000,3000,4000]);
label(panelL,"Number of links for each category",791,639,9.7,{bold:true,fill:"#222"});
label(panelL,"degree>=k",791,798.5,10);
label(panelL,"Number of links",567.5,708,10,{rot:true});

// ---------- Panel D ----------
const panelD=root.append("g");
const xD=d3.scaleLinear().domain([.6,2.4]).range([1164.3-.4*216,1164.3+1.4*216]);
const yD=d3.scaleLinear().domain([-.098,.698]).range([771,465]);
function points(g,data,pos,color){g.append("g").selectAll("circle").data(data).join("circle").attr("cx",d=>xD(pos+d[0])).attr("cy",d=>yD(d[1])).attr("r",1.2).attr("fill",color);}
violin(panelD,hubShape,1,xD,yD,"#ff0b1f","none",1.8);
points(panelD,hubPoints,1,"#ff0b1f");
medianLine(panelD,.25,1,hubMedian,xD,yD,"#ff0b1f",1.8);
violin(panelD,nonHubShape,2,xD,yD,"#0f70ae","none",1.8);
points(panelD,nonHubPoints,2,"#0f70ae");
medianLine(panelD,.25,2,nonHubMedian,xD,yD,"#0f70ae",1.8);
{xAxis(panelD,d3.scaleLinear().domain([.6,2.4]).range([xD(.6),xD(2.4)]),771,[1,2],13.2,6,d=>violinNamesD[d-1]);
 panelD.append("line").attr("x1",1078.3).attr("x2",1466).attr("y1",771).attr("y2",771).attr("stroke",AX).attr("stroke-width",.9);}
yAxis(panelD,yD,1078.3,[0,.2,.4,.6],14,4);
label(panelD,"Coexpression",1048,618,13.5,{rot:true});

// corner letters
svg.append("g").selectAll("text").data(panelLetters).join("text").text(d=>d[0]).attr("x",d=>d[1]).attr("y",d=>d[2]).attr("text-anchor","middle").attr("font-size",37).attr("fill","#000");
</script></body></html>
